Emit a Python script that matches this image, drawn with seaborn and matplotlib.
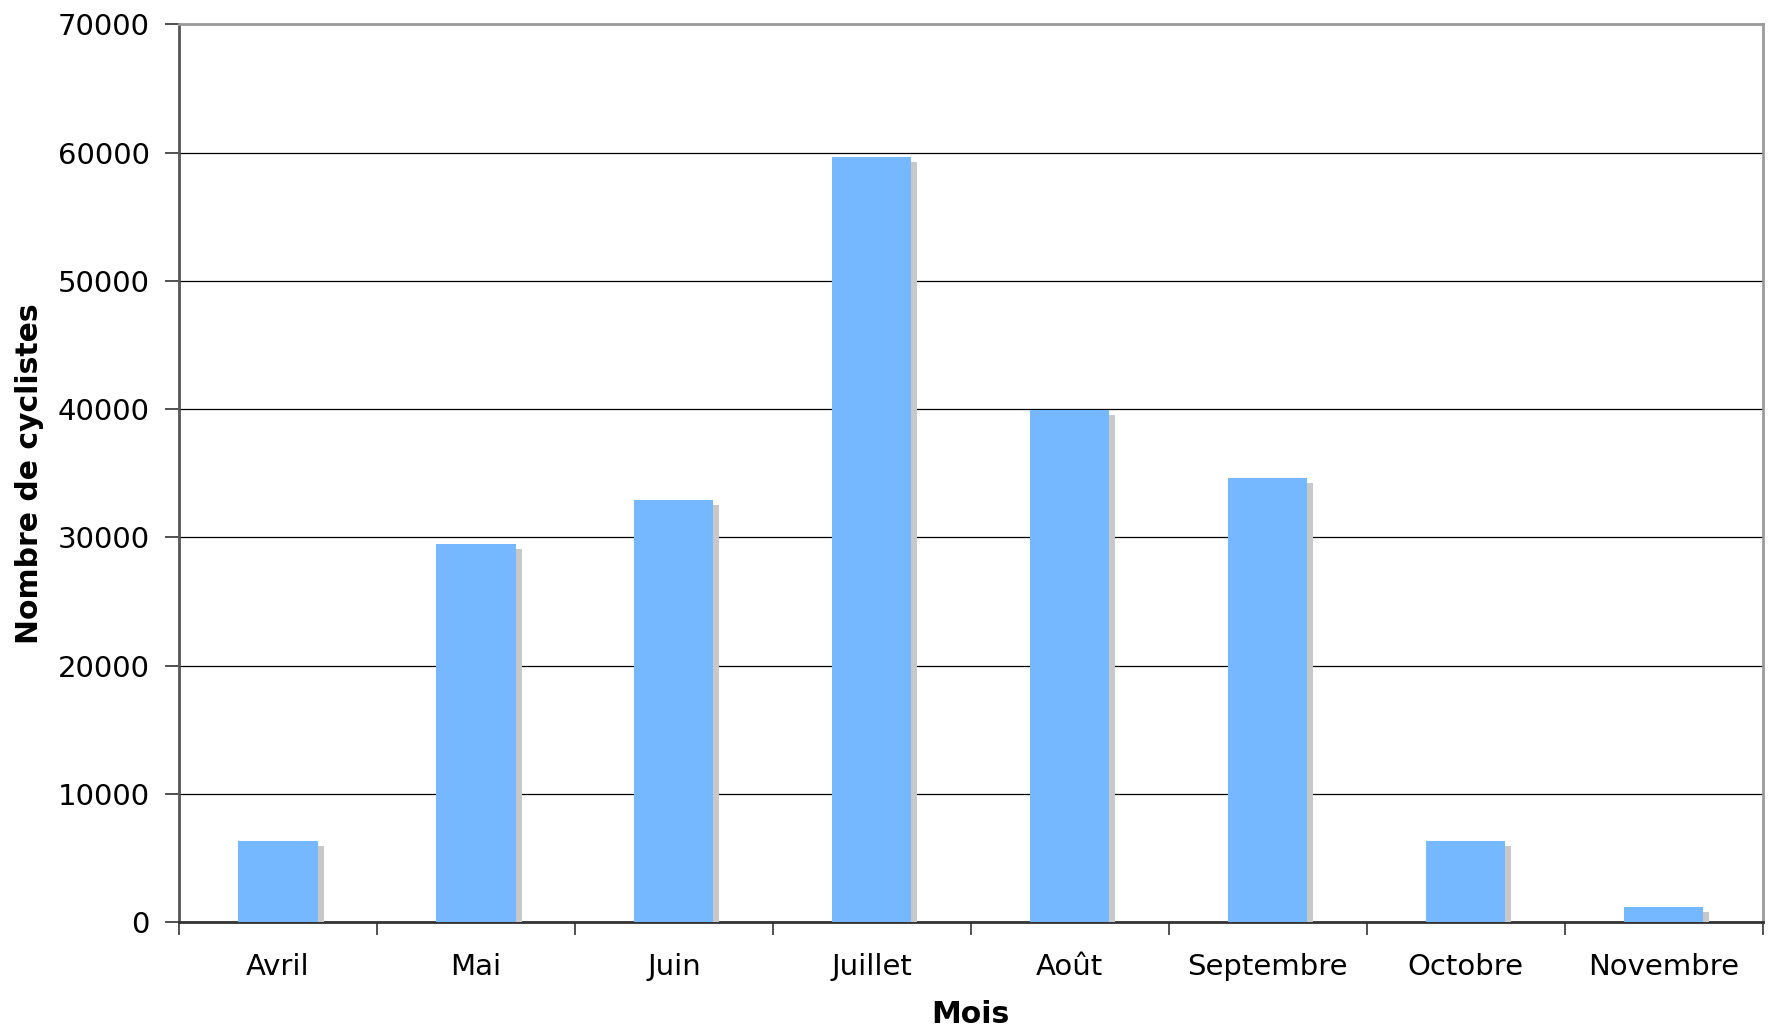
import matplotlib
matplotlib.use("Agg")
import matplotlib.pyplot as plt
import matplotlib.patheffects as pe
from matplotlib.ticker import FixedLocator, NullFormatter
import seaborn as sns
import pandas as pd

months = ["Avril", "Mai", "Juin", "Juillet", "Août", "Septembre", "Octobre", "Novembre"]
cyclists = [6300, 29500, 32900, 59650, 39900, 34650, 6300, 1200]
y_ticks = [0, 10000, 20000, 30000, 40000, 50000, 60000, 70000]

df = pd.DataFrame({"Mois": months, "Nombre de cyclistes": cyclists})

sns.set_style("white")
plt.rcParams['font.family'] = ['DejaVu Sans']
plt.rcParams['text.color'] = 'black'
plt.rcParams['axes.labelcolor'] = 'black'
plt.rcParams['xtick.color'] = 'black'
plt.rcParams['ytick.color'] = 'black'

fig = plt.figure(figsize=(17.72, 10.28), dpi=100)
ax = fig.add_axes([179 / 1772, 1 - 922.3 / 1028, (1762.7 - 179) / 1772, (922.3 - 24.3) / 1028])

sns.barplot(data=df, x="Mois", y="Nombre de cyclistes", color="#75b8ff",
            saturation=1, width=0.40, ax=ax, zorder=3)
for p in ax.patches:
    p.set_edgecolor("none")
    p.set_path_effects([pe.SimplePatchShadow(offset=(4.3, -3.6), shadow_rgbFace="#c8c8c8", alpha=1.0),
                        pe.Normal()])

ax.set_xlim(-0.5, len(months) - 0.5)
ax.set_ylim(0, 70000)
ax.set_yticks(y_ticks)
ax.set_yticklabels([str(v) for v in y_ticks])
ax.yaxis.grid(True, color="black", linewidth=0.9, zorder=0)
ax.set_axisbelow(True)

ax.xaxis.set_minor_locator(FixedLocator([i - 0.5 for i in range(len(months) + 1)]))
ax.xaxis.set_minor_formatter(NullFormatter())
ax.tick_params(axis="x", which="major", length=0, pad=22, labelsize=21, labelcolor="black")
ax.tick_params(axis="x", which="minor", length=9, width=1.2, direction="out", color="#333333", bottom=True)
ax.tick_params(axis="y", which="major", length=10, width=1.2, direction="out", pad=11,
               labelsize=21, labelcolor="black", color="#333333", left=True)

for side, col in [("left", "#555555"), ("bottom", "#333333"), ("top", "#9a9a9a"), ("right", "#9a9a9a")]:
    ax.spines[side].set_visible(True)
    ax.spines[side].set_color(col)
    ax.spines[side].set_linewidth(2.0)

ax.set_xlabel("Mois", fontsize=21.5, fontweight="bold", labelpad=14, color="black")
ax.set_ylabel("Nombre de cyclistes", fontsize=21.5, fontweight="bold", labelpad=10, color="black")

fig.savefig("out.png", dpi=100)
